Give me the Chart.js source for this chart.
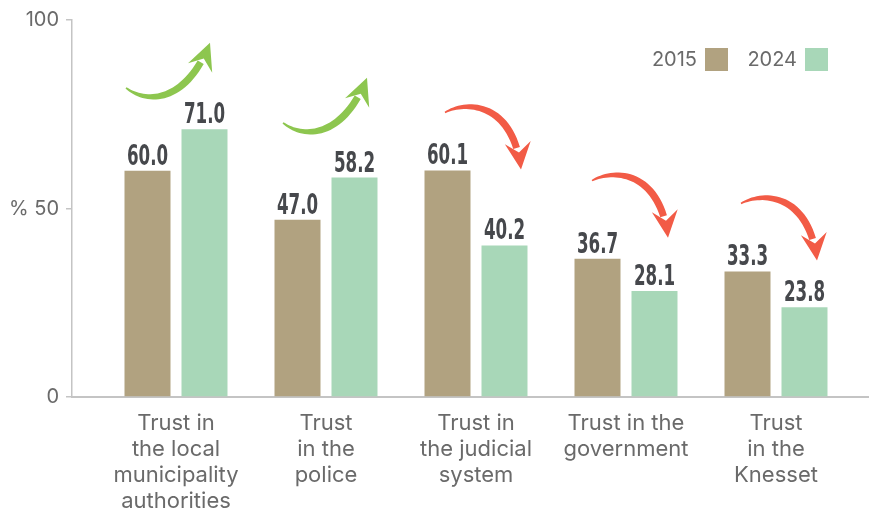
<!DOCTYPE html>
<html>
<head>
<meta charset="utf-8">
<script src="https://cdn.jsdelivr.net/npm/chart.js@4.4.1/dist/chart.umd.min.js"></script>
<style>
  html, body { margin: 0; padding: 0; background: #fff; }
  #wrap { width: 869px; height: 511px; position: relative; }
</style>
</head>
<body>
<div id="wrap"><canvas id="trustChart"></canvas></div>
<script>
// Data
const categories = [
  ['Trust in', 'the local', 'municipality', 'authorities'],
  ['Trust', 'in the', 'police'],
  ['Trust in', 'the judicial', 'system'],
  ['Trust in the', 'government'],
  ['Trust', 'in the', 'Knesset']
];
const years = ['2015', '2024'];
const values2015 = [60.0, 47.0, 60.1, 36.7, 33.3];
const values2024 = [71.0, 58.2, 40.2, 28.1, 23.8];
const yTicks = [0, 50, 100];

const colors = ['#b1a280', '#a8d7b8'];
const textGray = '#6a6a6a';
const labelDark = '#46484c';

// Arrow start offsets per group (dx from group centre, dy from 2015 bar top), px
const arrowStart = [[-50, -83], [-43, -97], [-31, -58], [-34, -78], [-35, -68]];

// Draw value labels above each bar
const valueLabels = {
  id: 'valueLabels',
  afterDatasetsDraw(chart) {
    const ctx = chart.ctx;
    ctx.save();
    ctx.fillStyle = labelDark;
    ctx.textAlign = 'center';
    ctx.textBaseline = 'alphabetic';
    ctx.font = 'bold 29px "DejaVu Sans Condensed", sans-serif';
    chart.data.datasets.forEach((ds, di) => {
      chart.getDatasetMeta(di).data.forEach((bar, i) => {
        ctx.save();
        ctx.translate(bar.x, bar.y - 6);
        ctx.scale(0.64, 1);
        ctx.fillText(ds.data[i].y.toFixed(1), 0, 0);
        ctx.restore();
      });
    });
    ctx.restore();
  }
};

function bez(p0, p1, p2, p3, t) {
  const u = 1 - t;
  return u * u * u * p0 + 3 * u * u * t * p1 + 3 * u * t * t * p2 + t * t * t * p3;
}

function drawArrow(ctx, sx, sy, up) {
  const pts = up
    ? [[0, 0], [20, 16], [60, 16], [84, -45]]
    : [[0, 0], [22, -12], [68, -10], [76, 57]];
  const P = pts.map(p => [sx + p[0], sy + p[1]]);
  const n = 30, tEnd = 0.88;
  const left = [], right = [];
  for (let k = 0; k <= n; k++) {
    const t = (k / n) * tEnd;
    const x = bez(P[0][0], P[1][0], P[2][0], P[3][0], t);
    const y = bez(P[0][1], P[1][1], P[2][1], P[3][1], t);
    const t2 = Math.min(t + 0.01, 1);
    const dx = bez(P[0][0], P[1][0], P[2][0], P[3][0], t2) - x;
    const dy = bez(P[0][1], P[1][1], P[2][1], P[3][1], t2) - y;
    const len = Math.hypot(dx, dy) || 1;
    const nx = -dy / len, ny = dx / len;
    const w = 0.8 + 2.8 * Math.sin(Math.PI * Math.min(t / tEnd, 1) * 0.6);
    left.push([x + nx * w, y + ny * w]);
    right.push([x - nx * w, y - ny * w]);
  }
  ctx.beginPath();
  left.forEach((p, k) => k ? ctx.lineTo(p[0], p[1]) : ctx.moveTo(p[0], p[1]));
  right.reverse().forEach(p => ctx.lineTo(p[0], p[1]));
  ctx.closePath();
  ctx.fill();
  // head
  const tx = P[3][0], ty = P[3][1];
  let hx = P[3][0] - P[2][0], hy = P[3][1] - P[2][1];
  const hl = Math.hypot(hx, hy);
  hx /= hl; hy /= hl;
  const px = -hy, py = hx;
  ctx.beginPath();
  ctx.moveTo(tx, ty);
  ctx.lineTo(tx - hx * 27 + px * 13, ty - hy * 27 + py * 13);
  ctx.lineTo(tx - hx * 17, ty - hy * 17);
  ctx.lineTo(tx - hx * 27 - px * 13, ty - hy * 27 - py * 13);
  ctx.closePath();
  ctx.fill();
}

const trendArrows = {
  id: 'trendArrows',
  afterDatasetsDraw(chart) {
    const ctx = chart.ctx;
    const xs = chart.scales.x, ys = chart.scales.y;
    ctx.save();
    values2015.forEach((v, i) => {
      const up = values2024[i] > v;
      const [dx, dy] = arrowStart[i];
      ctx.fillStyle = up ? '#8dc64f' : '#f25b46';
      drawArrow(ctx, xs.getPixelForValue(i) + dx, ys.getPixelForValue(v) + dy, up);
    });
    ctx.restore();
  }
};

// Legend: text first, then the colour box
const sideLegend = {
  id: 'sideLegend',
  afterDraw(chart) {
    const ctx = chart.ctx;
    ctx.save();
    ctx.font = '20px Inter, "Noto Sans", sans-serif';
    ctx.textAlign = 'right';
    ctx.textBaseline = 'middle';
    const boxRight = [728, 828];
    chart.data.datasets.forEach((ds, i) => {
      const bx = boxRight[i] - 23;
      ctx.fillStyle = ds.backgroundColor;
      ctx.fillRect(bx, 48, 23, 23);
      ctx.fillStyle = textGray;
      ctx.fillText(ds.label, bx - 8, 60);
    });
    ctx.restore();
  }
};

const xMin = -0.6933, xMax = 4.62;

new Chart(document.getElementById('trustChart'), {
  type: 'bar',
  data: {
    datasets: [
      { label: years[0], data: values2015.map((v, i) => ({ x: i, y: v })), backgroundColor: colors[0] },
      { label: years[1], data: values2024.map((v, i) => ({ x: i, y: v })), backgroundColor: colors[1] }
    ]
  },
  options: {
    responsive: true,
    maintainAspectRatio: false,
    animation: false,
    categoryPercentage: 0.76,
    barPercentage: 0.807,
    layout: { padding: { top: 20, right: 0, left: 0, bottom: 0 } },
    plugins: {
      legend: { display: false },
      tooltip: { enabled: false }
    },
    scales: {
      x: {
        type: 'linear',
        offset: false,
        min: xMin,
        max: xMax,
        afterBuildTicks: (s) => { s.ticks = categories.map((c, i) => ({ value: i })); },
        afterFit: (s) => { s.height = 114; },
        grid: { display: false, offset: false },
        border: { display: true, color: '#c4c4c4', width: 2 },
        ticks: {
          autoSkip: false,
          maxRotation: 0,
          padding: 5,
          color: textGray,
          font: { family: 'Inter, "Noto Sans", sans-serif', size: 22, lineHeight: '26px' },
          callback: (v) => categories[v]
        }
      },
      y: {
        min: 0,
        max: 100,
        afterBuildTicks: (s) => { s.ticks = yTicks.map(v => ({ value: v })); },
        afterFit: (s) => { s.width = 72; },
        grid: { drawOnChartArea: false, color: '#c4c4c4', tickLength: 6, lineWidth: 1.5 },
        border: { display: true, color: '#c4c4c4', width: 1.5 },
        ticks: {
          padding: 7,
          color: textGray,
          font: { family: 'Inter, "Noto Sans", sans-serif', size: 20 },
          callback: (v) => (v === 50 ? '% 50' : v)
        }
      }
    }
  },
  plugins: [valueLabels, trendArrows, sideLegend]
});
</script>
</body>
</html>
